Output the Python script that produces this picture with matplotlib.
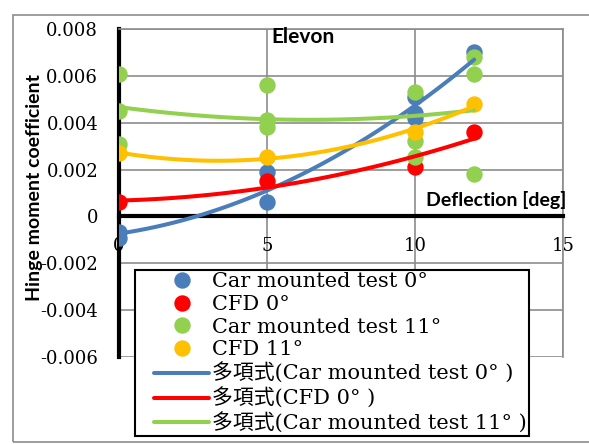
import numpy as np
import matplotlib
matplotlib.use("Agg")
import matplotlib.pyplot as plt
from matplotlib.lines import Line2D
from matplotlib.legend_handler import HandlerLine2D
from matplotlib.patches import Rectangle

# data (deflection [deg] -> hinge moment coefficient)
car0_x = [0, 0, 5, 5, 10, 10, 10, 12]
car0_y = [-0.00065, -0.0009, 0.0019, 0.0006, 0.0051, 0.0044, 0.0042, 0.0070]
cfd0_x = [0, 5, 10, 12]
cfd0_y = [0.0006, 0.0015, 0.0021, 0.0036]
car11_x = [0, 0, 0, 5, 5, 5, 10, 10, 10, 12, 12, 12]
car11_y = [0.0061, 0.0045, 0.0031, 0.0056, 0.0041, 0.0038,
           0.0053, 0.0032, 0.00255, 0.0068, 0.0061, 0.0018]
cfd11_x = [0, 5, 10, 12]
cfd11_y = [0.0027, 0.00255, 0.0036, 0.0048]

xticks = [0, 5, 10, 15]
yticks = [-0.006, -0.004, -0.002, 0, 0.002, 0.004, 0.006, 0.008]
ytick_labels = ['-0.006', '-0.004', '-0.002', '0', '0.002', '0.004', '0.006', '0.008']

c_blue = '#4A7EBB'
c_red = '#FF0000'
c_green = '#92D050'
c_orange = '#FFC000'

serif = ['DejaVu Serif', 'Noto Sans CJK JP']
plt.rcParams['font.family'] = serif

fig = plt.figure(figsize=(5.89, 4.44), dpi=100)
ax = fig.add_axes([119/589, 1-357/444, (563-119)/589, (357-29)/444])

ms = 10.8
ax.plot(car0_x, car0_y, 'o', color=c_blue, ms=ms, label='Car mounted test 0°', zorder=3)
ax.plot(cfd0_x, cfd0_y, 'o', color=c_red, ms=ms, label='CFD 0°', zorder=3)
ax.plot(car11_x, car11_y, 'o', color=c_green, ms=ms, label='Car mounted test 11°', zorder=3)
ax.plot(cfd11_x, cfd11_y, 'o', color=c_orange, ms=ms, label='CFD 11°', zorder=3)

# 2nd order polynomial trendlines
xx = np.linspace(0, 12, 100)
fits = [(car0_x, car0_y, c_blue, '多項式(Car mounted test 0° )'),
        (cfd0_x, cfd0_y, c_red, '多項式(CFD 0° )'),
        (car11_x, car11_y, c_green, '多項式(Car mounted test 11° )'),
        (cfd11_x, cfd11_y, c_orange, None)]
for fx, fy, col, lab in fits:
    p = np.polyfit(fx, fy, 2)
    ax.plot(xx, np.polyval(p, xx), color=col, lw=2.9, label=lab, zorder=4,
            solid_capstyle='round')

ax.set_xlim(0, 15)
ax.set_ylim(-0.006, 0.008)
ax.set_xticks(xticks)
ax.set_xticklabels([str(t) for t in xticks])
ax.set_yticks(yticks)
ax.set_yticklabels(ytick_labels)
ax.tick_params(axis='both', length=0, labelsize=13)
ax.tick_params(axis='x', pad=15)
ax.tick_params(axis='y', pad=15)
ax.grid(True, color='#8c8c8c', lw=1.2)
ax.set_axisbelow(True)

ax.spines['bottom'].set_position(('data', 0))
ax.spines['bottom'].set_linewidth(3)
ax.spines['bottom'].set_color('black')
ax.spines['left'].set_linewidth(3)
ax.spines['left'].set_color('black')
for s in ['top', 'right']:
    ax.spines[s].set_color('#8c8c8c')
    ax.spines[s].set_linewidth(1.2)

ax.text(6.22, 0.00765, 'Elevon', family='Lato', weight='bold', fontsize=15,
        ha='center', va='center')
ax.text(15.1, 0.00072, 'Deflection [deg]', family='Lato', weight='bold', fontsize=14,
        ha='right', va='center')
fig.text(35/589, 1-187/444, 'Hinge moment coefficient', family='Lato', weight='bold',
         fontsize=14, rotation=90, ha='center', va='center')

fs = 15
leg = ax.legend(loc='upper left', bbox_to_anchor=(135/589, 1-270/444),
                bbox_transform=fig.transFigure, borderaxespad=0, borderpad=0.1,
                fontsize=fs, numpoints=1, handlelength=3.46, handletextpad=0.15,
                labelspacing=0.18, fancybox=False, framealpha=1, edgecolor='black',
                handler_map={Line2D: HandlerLine2D(xpad=0.82)})
leg.get_frame().set_linewidth(1.5)
leg.set_zorder(10)

fig.patches.append(Rectangle((13/589, 1-442/444), 1, (442-15)/444,
                             transform=fig.transFigure, fill=False,
                             edgecolor='#8c8c8c', lw=1.2))

fig.savefig('out.png', dpi=100)
